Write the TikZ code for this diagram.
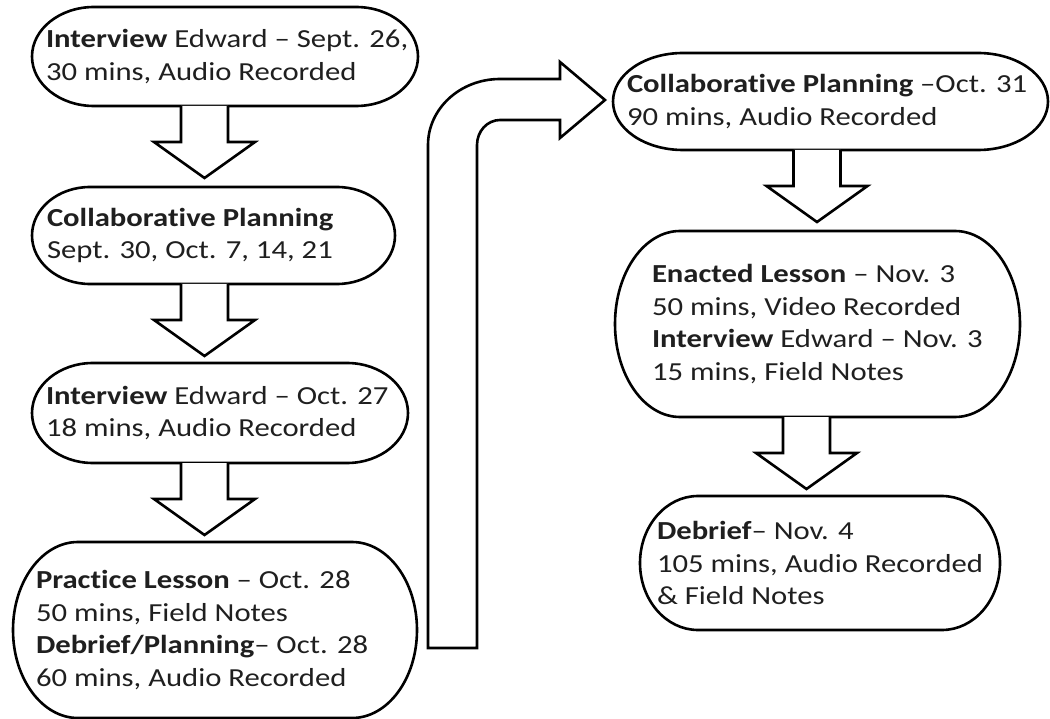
\documentclass[tikz,border=0pt]{standalone}
\usepackage{fontspec}
\setmainfont{Carlito}[FakeStretch=1.18, Ligatures={NoCommon}]
\usetikzlibrary{calc}
\tikzset{
  frame/.style={inner sep=0pt, outer sep=0pt, draw=none},
  txt/.style={inner sep=0pt, outer sep=0pt, anchor=west, align=left, font=\fontsize{26}{32.5}\selectfont, text=black!88},
  outline/.style={line width=2.6pt, draw=black, fill=white, line join=miter},
}
% terminator outline around a rectangle node: #1 node, #2 x radius, #3 y radius
\newcommand{\tbox}[3]{%
  \draw[outline] ($(#1.north west)+(#2pt,0)$) -- ($(#1.north east)+(-#2pt,0)$)
    arc[start angle=90, end angle=-90, x radius=#2pt, y radius=#3pt]
    -- ($(#1.south west)+(#2pt,0)$)
    arc[start angle=270, end angle=90, x radius=#2pt, y radius=#3pt] -- cycle;}
% block arrow going down from node #2 at the x of coordinate #1
\newcommand{\blkarrow}[2]{%
  \draw[outline] let \p1=(#1 |- #2.south) in
    (\x1-23.5pt,\y1) -- (\x1-23.5pt,\y1-36pt) -- (\x1-50.5pt,\y1-36pt)
    -- (\x1,\y1-72pt) -- (\x1+50.5pt,\y1-36pt) -- (\x1+23.5pt,\y1-36pt)
    -- (\x1+23.5pt,\y1);}
\begin{document}
\begin{tikzpicture}[x=1pt,y=1pt]
\useasboundingbox (0,0) rectangle (1050,-719);
\fill[white] (0,0) rectangle (1050,-719);

% frames (x1..x2, y1..y2 in px, y downward)
\node[frame, minimum width=386pt, minimum height=99pt] (b1) at (225,-56.5) {};
\node[frame, minimum width=363pt, minimum height=97pt] (b2) at (213.5,-235.5) {};
\node[frame, minimum width=376pt, minimum height=100pt] (b3) at (220,-413) {};
\node[frame, minimum width=404pt, minimum height=176pt] (b4) at (215,-630) {};
\node[frame, minimum width=435pt, minimum height=97pt] (b5) at (830.5,-101.5) {};
\node[frame, minimum width=405pt, minimum height=186pt] (b6) at (817.5,-324) {};
\node[frame, minimum width=360pt, minimum height=134pt] (b7) at (820,-563) {};

\tbox{b1}{62}{49.5}
\tbox{b2}{58}{48.5}
\tbox{b3}{61}{50}
\tbox{b4}{65}{88}
\tbox{b5}{70}{48.5}
\tbox{b6}{65}{93}
\tbox{b7}{58}{67}

% arrow axes
\coordinate (ax1) at (204.5,0);
\coordinate (ax2) at (817,0);
\coordinate (ax3) at (806.5,0);

\blkarrow{ax1}{b1}
\blkarrow{ax1}{b2}
\blkarrow{ax1}{b3}
\blkarrow{ax2}{b5}
\blkarrow{ax3}{b6}

% bent arrow from b4 side to b5
\coordinate (tip) at ($(b5.west)+(-8pt,0)$);
\draw[outline] (428,-648) -- (428,-145)
  arc[start angle=180, end angle=90, x radius=72pt, y radius=66pt]
  -- (560,-79) -- (560,-62) -- (tip |- 0,-100) -- (560,-138) -- (560,-120) -- (500,-120)
  arc[start angle=90, end angle=180, x radius=23pt, y radius=25pt]
  -- (477,-648) -- cycle;

% texts
\node[txt] (t1) at (46,-56.5) {\textbf{Interview} Edward – Sept. 26,\\30 mins, Audio Recorded};
\node[txt] (t2) at (47,-235.5) {\textbf{Collaborative Planning}\\Sept. 30, Oct. 7, 14, 21};
\node[txt] (t3) at (46,-413) {\textbf{Interview} Edward – Oct. 27\\18 mins, Audio Recorded};
\node[txt] (t4) at (36,-630) {\textbf{Practice Lesson} – Oct. 28\\50 mins, Field Notes\\\textbf{Debrief/Planning}– Oct. 28\\60 mins, Audio Recorded};
\node[txt] (t5) at (627,-101.5) {\textbf{Collaborative Planning} –Oct. 31\\90 mins, Audio Recorded};
\node[txt] (t6) at (652,-324) {\textbf{Enacted Lesson} – Nov. 3\\50 mins, Video Recorded\\\textbf{Interview} Edward – Nov. 3\\15 mins, Field Notes};
\node[txt] (t7) at (657,-563) {\textbf{Debrief}– Nov. 4\\105 mins, Audio Recorded\\\& Field Notes};
\end{tikzpicture}
\end{document}
